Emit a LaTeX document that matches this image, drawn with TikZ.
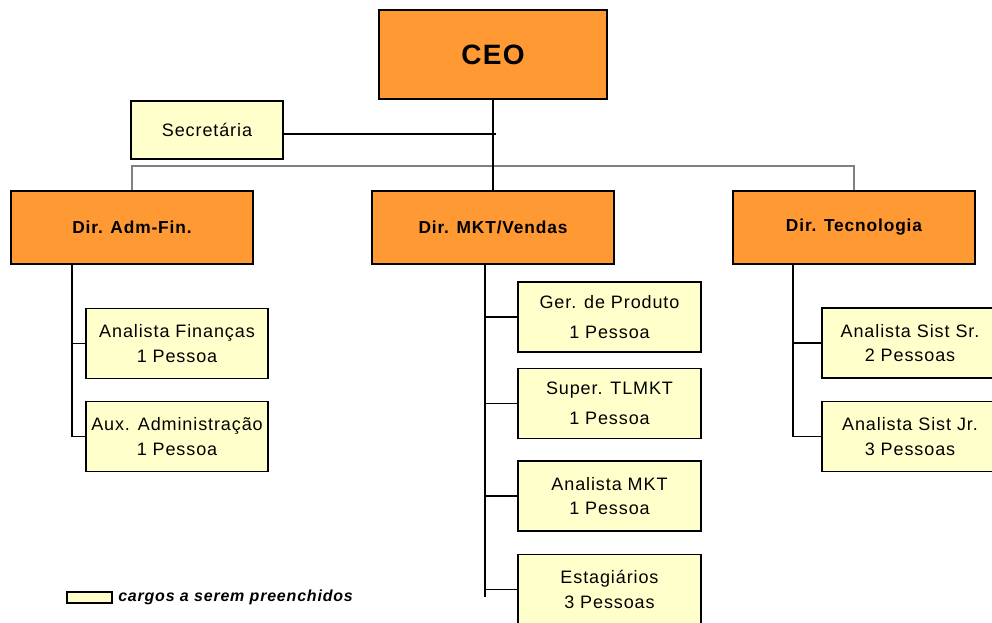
\documentclass[tikz,border=0pt]{standalone}
\usepackage{fontspec}
\setmainfont{Liberation Sans}[LetterSpace=5]
\usetikzlibrary{positioning}

\definecolor{chefe}{HTML}{FF9933}
\definecolor{vaga}{HTML}{FFFFCC}

\begin{document}
\begin{tikzpicture}[x=0.75pt,y=-0.75pt,
  box/.style={draw=black,line width=1.2pt,fill=#1,inner sep=0pt,align=center},
  dir/.style={box=chefe,minimum width=181.5pt,minimum height=54.75pt,font=\fontsize{13}{16}\selectfont\bfseries},
  cargo/.style={box=vaga,minimum width=#1,minimum height=52.5pt,font=\fontsize{13.5}{18.5}\selectfont},
  cargo/.default=136.5pt,
  bus/.style={draw=gray,line width=1.6pt},
  lig/.style={draw=black,line width=0.8pt}]
  \clip (0,0) rectangle (992,622);
  % ---------- topo
  \node[box=chefe,minimum width=171pt,minimum height=66.75pt,font=\fontsize{21}{25}\selectfont\bfseries] (ceo) at (493,54.5) {CEO};
  \node[box=vaga,minimum width=114pt,minimum height=43.5pt,font=\fontsize{13.5}{18.5}\selectfont] (sec) at (207,130) {Secretária};
  % ---------- diretorias
  \node[dir] (adm) at (132,227.5) {Dir. Adm-Fin.};
  \node[dir] (mkt) at (493,227.5) {Dir. MKT/Vendas};
  \node[dir] (tec) at (854,227.5) {Dir. Tecnologia};
  \draw[bus] (adm.north) -- ++(0,-24) -| (tec.north);
  \draw[lig] (ceo.south) -- (mkt.north);
  \coordinate (secfim) at (496,134);
  \draw[black,line width=1.5pt] (sec.east |- secfim) -- (secfim);
  % ---------- adm-fin
  \node[cargo] (fin) at (177,343.5) {Analista Finanças\\1 Pessoa};
  \node[cargo] (aux) at (177,436.5) {Aux. Administração\\1 Pessoa};
  \coordinate (admt) at (72,264);
  \draw[lig] (admt) |- (fin.west);
  \draw[lig] (admt) |- (aux.west);
  % ---------- mkt/vendas
  \node[cargo=137.25pt] (ger) at (609.5,317) {Ger. de Produto\\[4pt]1 Pessoa};
  \node[cargo=137.25pt] (sup) at (609.5,403.5) {Super. TLMKT\\[4pt]1 Pessoa};
  \node[cargo=137.25pt] (ana) at (609.5,496) {Analista MKT\\1 Pessoa};
  \node[cargo=137.25pt] (est) at (609.5,589.5) {Estagiários\\3 Pessoas};
  \coordinate (mktt) at (485,264);
  \coordinate (mktfim) at (485,597);
  \draw[lig] (mktt) -- (mktfim);
  \foreach \c in {ger,sup,ana,est}
    \draw[lig] (\c.west) -- (\c.west -| mktt);
  % ---------- tecnologia
  \node[cargo=132pt] (sr) at (910,343) {Analista Sist Sr.\\2 Pessoas};
  \node[cargo=132pt] (jr) at (910,436.5) {Analista Sist Jr.\\3 Pessoas};
  \coordinate (tect) at (793,264);
  \draw[lig] (tect) |- (sr.west);
  \draw[lig] (tect) |- (jr.west);
  % ---------- legenda
  \node[box=vaga,line width=1pt,minimum width=33.75pt,minimum height=8.25pt] (legbox) at (89.5,597.5) {};
  \node[right=4pt of legbox,inner sep=0pt,font=\fontsize{12}{14}\selectfont\bfseries\itshape] (legtxt) {cargos a serem preenchidos};
\end{tikzpicture}
\end{document}
